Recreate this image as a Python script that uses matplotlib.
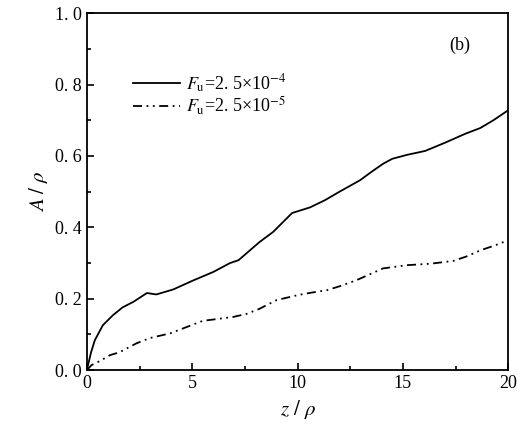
import numpy as np
import matplotlib.pyplot as plt
from matplotlib.ticker import MultipleLocator, FuncFormatter

plt.rcParams['font.family'] = ['Liberation Serif', 'DejaVu Serif']
plt.rcParams['mathtext.fontset'] = 'stix'

# solid curve, F_u = 2.5e-4
z1 = [0, 0.2, 0.38, 0.76, 1.24, 1.7, 2.2, 2.85, 3.3, 4.1, 5.0, 6.0, 6.8, 7.2,
      8.2, 8.84, 9.4, 9.74, 10.6, 11.3, 12.0, 12.97, 13.5, 14.06, 14.5, 15.2,
      16.06, 17.0, 18.0, 18.67, 19.3, 20.0]
A1 = [0, 0.05, 0.084, 0.126, 0.154, 0.176, 0.191, 0.216, 0.212, 0.226, 0.25,
      0.275, 0.30, 0.308, 0.359, 0.387, 0.42, 0.44, 0.456, 0.476, 0.50, 0.532,
      0.555, 0.578, 0.592, 0.603, 0.614, 0.637, 0.663, 0.678, 0.70, 0.728]

# dash-dot-dot curve, F_u = 2.5e-5
z2 = [0, 0.22, 0.6, 1.1, 1.55, 2.35, 3.0, 3.95, 4.75, 5.5, 6.95, 7.6, 8.2, 9.0,
      10.0, 10.45, 11.4, 12.0, 12.8, 14.06, 15.2, 16.3, 17.4, 18.0, 18.7, 19.4, 20.0]
A2 = [0, 0.014, 0.025, 0.042, 0.05, 0.075, 0.09, 0.103, 0.121, 0.138, 0.149,
      0.158, 0.172, 0.196, 0.21, 0.215, 0.224, 0.235, 0.252, 0.285, 0.294,
      0.298, 0.306, 0.318, 0.336, 0.35, 0.364]

labels = [r'$F_{\rm u}$=2. 5×10$^{-4}$', r'$F_{\rm u}$=2. 5×10$^{-5}$']

fig = plt.figure(figsize=(5.17, 4.37), dpi=100)
ax = fig.add_axes([0.168, 0.153, 0.815, 0.817])

ax.plot(z1, A1, color='black', lw=1.3, label=labels[0])
ax.plot(z2, A2, color='black', lw=1.3, linestyle=(0, (5, 2.5, 1, 2.5, 1, 2.5)),
        label=labels[1])

ax.set_xlim(0, 20)
ax.set_ylim(0, 1.0)
ax.xaxis.set_major_locator(MultipleLocator(5))
ax.xaxis.set_minor_locator(MultipleLocator(2.5))
ax.yaxis.set_major_locator(MultipleLocator(0.2))
ax.yaxis.set_minor_locator(MultipleLocator(0.1))
ax.yaxis.set_major_formatter(FuncFormatter(lambda v, p: f'{v:.1f}'.replace('.', '. ')))
ax.tick_params(which='both', direction='in', top=False, right=False, labelsize=13)
ax.tick_params(which='major', length=5, width=1.2)
ax.tick_params(which='minor', length=3, width=1.2)
for s in ax.spines.values():
    s.set_linewidth(1.3)

ax.set_xlabel(r'$z\ /\ \rho$', fontsize=15)
ax.set_ylabel(r'$A\ /\ \rho$', fontsize=15)

ax.text(17.7, 0.91, '(b)', fontsize=13, ha='center', va='center')
ax.legend(loc='upper left', bbox_to_anchor=(0.093, 0.855), frameon=False,
          fontsize=13, handlelength=2.6, handletextpad=0.3, labelspacing=0.0,
          borderaxespad=0)

fig.savefig('out.png', dpi=100)
